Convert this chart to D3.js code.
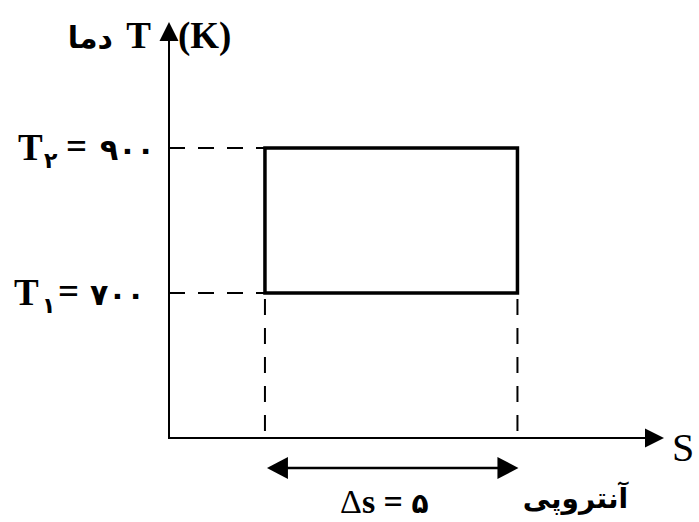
<!DOCTYPE html>
<html>
<head>
<meta charset="utf-8">
<script src="https://cdn.jsdelivr.net/npm/d3@7"></script>
<style>
  html, body { margin: 0; padding: 0; background: #fff; }
  svg { display: block; }
</style>
</head>
<body>
<div id="chart"></div>
<script>
// ---- data ----
const temps = [700, 900];                 // T1, T2 (K)
const tempSubs = ["۱", "۲"];              // subscripts
const tempTexts = ["۷۰۰", "۹۰۰"];         // printed values
const entropy = [1.9, 6.9];               // s1, s2 (Δs = 5)
const deltaSText = "۵";
const yAxisLabelFa = "دما";
const xAxisLabelFa = "آنتروپی";

// ---- layout ----
const W = 699, H = 522;
const svg = d3.select("#chart").append("svg").attr("width", W).attr("height", H);

const y = d3.scaleLinear().domain([500, 900]).range([438, 148]);
const x = d3.scaleLinear().domain([0, 10]).range([169, 674]);

const x0 = x(0), y0 = y(500);
const yTop = 22, xEnd = 664;
const serif = "'Liberation Serif', 'Times New Roman', serif";
const fa = "'DejaVu Sans', sans-serif";

// axes
svg.append("line").attr("x1", x0).attr("y1", y0 + 1).attr("x2", x0).attr("y2", yTop + 10)
  .attr("stroke", "#000").attr("stroke-width", 2);
svg.append("line").attr("x1", x0 - 1).attr("y1", y0).attr("x2", xEnd - 10).attr("y2", y0)
  .attr("stroke", "#000").attr("stroke-width", 2);
// arrowheads
svg.append("path").attr("d", `M${x0},${yTop} L${x0 + 9.5},${yTop + 19} L${x0 - 9.5},${yTop + 19} Z`).attr("fill", "#000");
svg.append("path").attr("d", `M${xEnd},${y0} L${xEnd - 19},${y0 - 9.5} L${xEnd - 19},${y0 + 9.5} Z`).attr("fill", "#000");

// dashed guides
const dash = "16,13";
temps.forEach(t => {
  svg.append("line").attr("x1", x0).attr("x2", x(entropy[0])).attr("y1", y(t)).attr("y2", y(t))
    .attr("stroke", "#000").attr("stroke-width", 2).attr("stroke-dasharray", dash);
});
entropy.forEach(s => {
  svg.append("line").attr("x1", x(s)).attr("x2", x(s)).attr("y1", y(temps[0]) + 6).attr("y2", y0)
    .attr("stroke", "#000").attr("stroke-width", 2).attr("stroke-dasharray", dash);
});

// cycle rectangle
svg.append("rect")
  .attr("x", x(entropy[0])).attr("y", y(temps[1]))
  .attr("width", x(entropy[1]) - x(entropy[0])).attr("height", y(temps[0]) - y(temps[1]))
  .attr("fill", "none").attr("stroke", "#000").attr("stroke-width", 3.5);

// temperature labels (T_i = value)
const labelX = [[14, 42, 58, 90], [18, 44, 66, 100]];
temps.forEach((t, i) => {
  const by = y(t) + 12;
  const g = svg.append("g").attr("fill", "#000");
  const p = labelX[i];
  g.append("text").attr("x", p[0]).attr("y", by).attr("font-family", serif)
    .attr("font-weight", "bold").attr("font-size", 37).text("T");
  g.append("text").attr("x", p[1]).attr("y", by + 8).attr("font-family", fa)
    .attr("font-weight", "bold").attr("font-size", 22).text(tempSubs[i]);
  g.append("text").attr("x", p[2]).attr("y", by - 1).attr("font-family", serif)
    .attr("font-weight", "bold").attr("font-size", 37).text("=");
  g.append("text").attr("x", p[3]).attr("y", by).attr("font-family", fa)
    .attr("font-weight", "bold").attr("font-size", 30).attr("letter-spacing", 9).text(tempTexts[i]);
});

// y axis label
svg.append("text").attr("x", 151).attr("y", 48).attr("text-anchor", "end")
  .attr("font-family", serif).attr("font-weight", "bold").attr("font-size", 37).text("T");
svg.append("text").attr("x", 113).attr("y", 48).attr("text-anchor", "end")
  .attr("font-family", fa).attr("font-weight", "bold").attr("font-size", 30).text(yAxisLabelFa);
svg.append("text").attr("x", x0 + 9).attr("y", 48).attr("text-anchor", "start")
  .attr("font-family", serif).attr("font-weight", "bold").attr("font-size", 37).text("(K)");

// x axis label
svg.append("text").attr("x", xEnd + 8).attr("y", y0 + 23).attr("text-anchor", "start")
  .attr("font-family", serif).attr("font-size", 40).text("S");

// delta-s double arrow
const ay = 468;
const ax1 = x(entropy[0]) + 2, ax2 = x(entropy[1]) + 1;
svg.append("line").attr("x1", ax1 + 15).attr("x2", ax2 - 15).attr("y1", ay).attr("y2", ay)
  .attr("stroke", "#000").attr("stroke-width", 2.5);
svg.append("path").attr("d", `M${ax1},${ay} L${ax1 + 21},${ay - 11} L${ax1 + 21},${ay + 11} Z`).attr("fill", "#000");
svg.append("path").attr("d", `M${ax2},${ay} L${ax2 - 21},${ay - 11} L${ax2 - 21},${ay + 11} Z`).attr("fill", "#000");

const ds = svg.append("text").attr("x", 340).attr("y", 513).attr("text-anchor", "start")
  .attr("font-family", serif).attr("font-size", 34).attr("fill", "#000");
ds.append("tspan").text("Δ");
ds.append("tspan").attr("font-weight", "bold").text("s = ");
ds.append("tspan").attr("font-family", fa).attr("font-weight", "bold").attr("font-size", 28).text(deltaSText);

svg.append("text").attr("x", 628).attr("y", 508).attr("text-anchor", "end")
  .attr("font-family", fa).attr("font-weight", "bold").attr("font-size", 28)
  .text(xAxisLabelFa);
</script>
</body>
</html>
